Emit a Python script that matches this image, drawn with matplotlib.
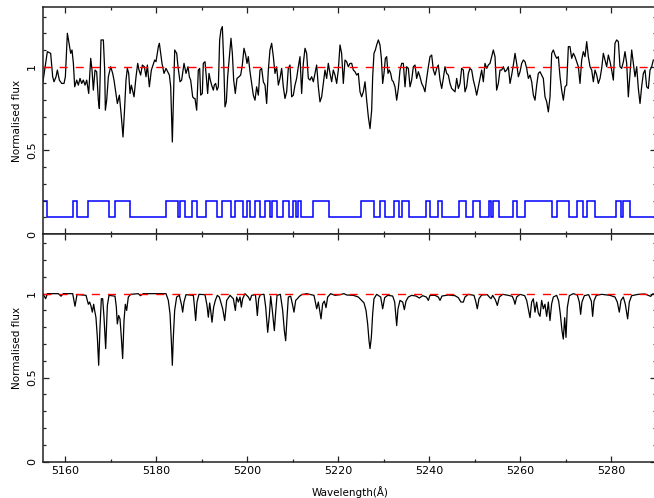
import numpy as np
import matplotlib
matplotlib.use("Agg")
import matplotlib.pyplot as plt
from matplotlib.ticker import MultipleLocator, FixedLocator

wl_obs = [5155.00, 5156.02, 5156.75, 5157.19, 5157.49, 5157.93, 5158.22, 5158.66, 5159.17, 5159.68,
          5159.98, 5160.42, 5160.86, 5161.15, 5161.44, 5161.74, 5162.03, 5162.47, 5162.83, 5163.20,
          5163.57, 5163.93, 5164.30, 5164.67, 5165.11, 5165.55, 5165.84, 5166.13, 5166.50, 5166.86,
          5167.23, 5167.45, 5167.82, 5168.33, 5168.62, 5168.77, 5169.06, 5169.43, 5169.94, 5170.38,
          5170.67, 5171.41, 5171.85, 5172.29, 5172.65, 5172.94, 5173.31, 5173.60, 5173.90, 5174.19,
          5174.48, 5175.07, 5175.51, 5175.88, 5176.17, 5176.53, 5176.90, 5177.34, 5177.71, 5178.00,
          5178.44, 5178.88, 5179.61, 5179.90, 5180.42, 5180.64, 5180.93, 5181.22, 5181.66, 5182.10,
          5182.84, 5183.13, 5183.49, 5184.01, 5184.45, 5184.74, 5185.18, 5185.54, 5186.06, 5186.50,
          5186.94, 5187.23, 5187.52, 5187.96, 5188.26,
          5188.47, 5188.84, 5189.20, 5189.50, 5189.72, 5190.08, 5190.30, 5190.67, 5190.96, 5191.25,
          5191.55, 5191.84, 5192.13, 5192.50, 5192.72, 5193.01, 5193.31, 5193.60, 5193.89, 5194.18,
          5194.48, 5194.77, 5195.06, 5195.36, 5195.65, 5196.09, 5196.38, 5196.68, 5196.97, 5197.33,
          5197.70, 5198.14, 5198.51, 5198.87, 5199.24, 5199.61, 5199.90, 5200.19, 5200.56, 5200.92,
          5201.29, 5201.66, 5202.02, 5202.39, 5202.76, 5203.12, 5203.49, 5203.86, 5204.22, 5204.59,
          5204.95, 5205.32, 5205.69, 5206.05, 5206.42, 5206.79, 5207.15, 5207.52, 5207.88, 5208.25,
          5208.62, 5208.98, 5209.35, 5209.72, 5210.08, 5210.45, 5210.81, 5211.18, 5211.55, 5211.91,
          5212.28, 5212.65, 5213.01, 5213.38, 5213.74, 5214.11, 5214.48, 5214.84, 5215.21, 5215.58,
          5215.94, 5216.31, 5216.68, 5217.04, 5217.41, 5217.77, 5218.14, 5218.51, 5218.87, 5219.24,
          5219.61, 5219.97, 5220.34, 5220.70, 5221.07, 5221.44, 5221.80, 5222.17, 5222.54,
          5222.91, 5223.27, 5223.64, 5224.01, 5224.37, 5224.74, 5225.10, 5225.47, 5225.84, 5226.20,
          5226.57, 5226.94, 5227.30, 5227.52, 5227.81, 5228.11, 5228.40, 5228.77, 5229.13, 5229.43,
          5229.72, 5230.01, 5230.31, 5230.60, 5230.89, 5231.18, 5231.48, 5231.77, 5232.06, 5232.43,
          5232.80, 5233.16, 5233.53, 5233.90, 5234.26, 5234.63, 5234.99, 5235.36, 5235.73, 5236.09,
          5236.46, 5236.83, 5237.19, 5237.56, 5237.92, 5238.29, 5238.66, 5239.02, 5239.39, 5239.76,
          5240.12, 5240.49, 5240.86, 5241.22, 5241.59, 5241.95, 5242.32, 5242.69, 5243.05, 5243.42,
          5243.79, 5244.15, 5244.52, 5244.88, 5245.25, 5245.62, 5245.98, 5246.35, 5246.72, 5247.08,
          5247.45, 5247.81, 5248.18, 5248.55, 5248.91, 5249.28, 5249.65, 5250.01, 5250.38, 5250.75,
          5251.11, 5251.48, 5251.84, 5252.21, 5252.58, 5252.94, 5253.31, 5253.68, 5254.04, 5254.41,
          5254.77, 5255.14, 5255.51,
          5255.88, 5256.24, 5256.61, 5256.98, 5257.34, 5257.71, 5258.07, 5258.44, 5258.81, 5259.17,
          5259.54, 5259.91, 5260.27, 5260.64, 5261.00, 5261.37, 5261.74, 5262.10, 5262.47, 5262.84,
          5263.20, 5263.57, 5263.93, 5264.30, 5264.67, 5265.03, 5265.40, 5265.77, 5266.13, 5266.50,
          5266.87, 5267.23, 5267.60, 5267.96, 5268.33, 5268.70, 5269.06, 5269.43, 5269.80, 5270.16,
          5270.53, 5270.89, 5271.26, 5271.63, 5271.99, 5272.36, 5272.73, 5273.09, 5273.46, 5273.82,
          5274.19, 5274.56, 5274.92, 5275.29, 5275.66, 5276.02, 5276.39, 5276.76, 5277.12, 5277.49,
          5277.85, 5278.22, 5278.59, 5278.95, 5279.32, 5279.69, 5280.05, 5280.42, 5280.78, 5281.15,
          5281.52, 5281.88, 5282.25, 5282.62, 5282.98, 5283.35, 5283.71, 5284.08, 5284.45, 5284.81,
          5285.18, 5285.55, 5285.91, 5286.28, 5286.64, 5287.01, 5287.38, 5287.74, 5288.11, 5288.48,
          5288.84, 5289.21]
flux_obs = [0.90, 1.09, 1.08, 0.94, 0.91, 0.94, 0.98, 0.92, 0.90, 0.90,
            0.94, 1.20, 1.13, 1.08, 1.10, 1.02, 0.88, 0.92, 0.89, 0.93,
            0.90, 0.92, 0.89, 0.92, 0.84, 1.05, 0.98, 0.86, 0.98, 0.97,
            0.80, 0.75, 1.16, 1.16, 0.98, 0.74, 0.80, 0.94, 1.00, 0.96,
            0.92, 0.78, 0.83, 0.70, 0.58, 0.72, 0.92, 0.99, 0.96, 0.84,
            0.89, 0.82, 0.94, 1.02, 0.98, 0.95, 1.01, 1.00, 0.94, 1.01,
            0.88, 0.98, 1.04, 1.03, 1.12, 1.14, 1.08, 1.02, 0.96, 0.99,
            0.95, 0.88, 0.55, 1.10, 1.08, 1.00, 0.91, 0.92, 1.02, 0.96,
            1.00, 0.94, 0.92, 0.82, 0.81,
            0.81, 0.74, 0.98, 0.99, 0.83, 0.84, 1.02, 1.03, 0.94, 0.84,
            0.96, 0.92, 0.89, 0.86, 0.89, 0.90, 0.86, 0.88, 1.16, 1.22,
            1.24, 1.04, 0.76, 0.79, 0.94, 1.08, 1.17, 1.08, 0.92, 0.84,
            0.93, 0.94, 0.95, 1.01, 1.11, 1.07, 1.02, 1.06, 0.97, 0.90,
            0.83, 0.80, 0.88, 0.83, 0.98, 0.99, 0.91, 0.89, 0.78, 0.98,
            1.10, 1.14, 1.06, 0.96, 1.00, 0.89, 0.93, 0.99, 0.88, 0.81,
            0.85, 0.99, 1.01, 0.82, 0.83, 0.89, 0.93, 1.00, 1.06, 0.84,
            1.02, 1.11, 1.08, 0.93, 0.92, 0.94, 0.91, 0.96, 1.01, 0.88,
            0.79, 0.82, 0.90, 0.98, 0.93, 1.02, 0.96, 0.91, 0.98, 0.95,
            0.90, 0.98, 1.13, 1.08, 0.90, 1.04, 1.03, 1.00, 1.02,
            1.02, 0.98, 0.97, 0.95, 0.96, 0.85, 0.82, 0.85, 0.91, 0.80,
            0.70, 0.63, 0.74, 0.94, 1.08, 1.10, 1.13, 1.16, 1.13, 1.05,
            0.90, 0.96, 1.05, 1.06, 0.96, 0.98, 0.96, 0.92, 0.91, 0.88,
            0.80, 0.87, 0.98, 1.02, 1.02, 0.88, 1.00, 0.99, 0.88, 0.92,
            1.00, 1.01, 0.93, 0.97, 0.94, 0.90, 0.88, 0.85, 0.93, 1.00,
            1.06, 1.07, 0.98, 0.95, 0.99, 1.01, 0.92, 0.87, 0.93, 1.00,
            0.96, 0.95, 0.90, 0.87, 0.86, 0.85, 0.93, 0.87, 0.90, 0.99,
            0.98, 0.85, 0.88, 0.96, 0.99, 0.98, 0.92, 0.88, 0.83, 0.88,
            0.93, 0.98, 0.91, 1.02, 0.99, 1.01, 1.02, 1.06, 1.10, 1.06,
            0.86, 0.90, 0.98,
            0.98, 1.00, 0.97, 0.98, 1.00, 0.90, 0.95, 1.01, 1.08, 1.02,
            0.94, 0.97, 1.02, 1.04, 1.03, 0.99, 0.93, 0.95, 0.91, 0.83,
            0.80, 0.89, 0.96, 0.97, 0.95, 0.93, 0.82, 0.79, 0.73, 0.82,
            1.08, 1.10, 1.07, 1.05, 1.06, 0.94, 0.86, 0.80, 0.88, 0.89,
            1.12, 1.12, 1.05, 1.08, 1.06, 1.03, 1.00, 0.90, 1.04, 1.09,
            1.06, 1.15, 1.06, 1.00, 0.98, 0.91, 0.98, 0.95, 0.90, 0.93,
            0.99, 1.08, 1.04, 1.00, 1.07, 1.03, 0.98, 0.92, 1.14, 1.16,
            1.15, 1.00, 0.99, 1.03, 1.09, 1.02, 0.82, 0.96, 1.10, 1.02,
            0.94, 1.00, 0.87, 0.78, 0.88, 0.96, 0.98, 0.88, 0.87, 0.98,
            1.00, 1.04]

# Pixel mask intervals (blue line is high inside these)
mask_on = [(5155.00, 5155.96), (5161.72, 5162.58), (5164.91, 5169.64), (5170.93, 5174.11),
           (5182.20, 5184.70), (5185.21, 5186.33), (5187.88, 5189.00), (5190.81, 5193.30),
           (5194.34, 5196.31), (5197.26, 5198.98), (5200.01, 5200.62), (5201.56, 5202.77),
           (5203.89, 5205.01), (5205.35, 5206.55), (5207.76, 5209.14), (5209.91, 5210.77),
           (5211.12, 5211.80), (5214.47, 5217.83), (5224.97, 5227.72), (5229.10, 5230.13),
           (5232.11, 5233.32), (5234.01, 5235.55), (5239.34, 5240.03), (5241.84, 5242.78),
           (5246.40, 5247.95), (5249.58, 5251.13), (5253.02, 5253.54), (5254.05, 5255.34),
           (5258.27, 5259.30), (5261.11, 5266.87), (5267.99, 5270.75), (5272.38, 5273.67),
           (5274.70, 5276.42), (5281.07, 5282.19), (5282.62, 5284.08)]
mask_low = 0.1
mask_high = 0.2

# Model spectrum (bottom panel)
wl_mod = [5155.00, 5155.65, 5156.02, 5158.44, 5159.02, 5159.53, 5161.59, 5162.10, 5162.54, 5164.52,
          5165.03, 5165.32, 5165.62, 5165.91, 5166.20, 5166.42, 5166.71, 5167.01, 5167.30, 5167.59,
          5167.89, 5168.18, 5168.47, 5168.84, 5169.21, 5169.57, 5170.89, 5171.18, 5171.40, 5171.70,
          5171.99, 5172.28, 5172.57, 5172.87, 5173.16, 5173.45, 5173.82, 5174.33, 5176.02, 5176.46,
          5177.12, 5182.10, 5182.61, 5182.98, 5183.27, 5183.49, 5183.71, 5184.00, 5184.44, 5185.03,
          5185.54, 5185.76, 5186.05, 5186.49, 5188.11, 5188.40, 5188.62, 5188.91, 5189.35, 5190.67,
          5191.11, 5191.40, 5191.70, 5191.92, 5192.21, 5192.57, 5192.94, 5193.38, 5193.82,
          5194.56, 5195.00, 5195.44, 5196.17, 5196.90, 5197.34, 5197.63, 5198.00, 5198.37, 5198.66,
          5198.95, 5199.46, 5200.20, 5200.56, 5200.93, 5201.74, 5201.96, 5202.17, 5202.47, 5202.83,
          5203.64, 5204.01, 5204.45, 5204.81, 5205.11, 5205.47, 5205.91, 5206.20, 5206.50, 5207.23,
          5207.74, 5208.11, 5208.40, 5208.70, 5208.99, 5209.50, 5209.94, 5210.23, 5210.60, 5210.97,
          5211.41, 5211.92, 5213.02, 5214.63, 5215.22, 5215.58, 5215.88, 5216.17, 5216.53, 5216.90,
          5217.27, 5217.63, 5218.29, 5219.24, 5220.34, 5221.22, 5221.81, 5223.27, 5224.37, 5225.10,
          5225.62, 5226.06, 5226.42, 5226.72, 5226.94, 5227.23, 5227.52, 5227.81, 5228.40, 5229.28,
          5229.72, 5230.16, 5230.82, 5231.92, 5232.36, 5232.58, 5232.80, 5233.09, 5233.53, 5234.12,
          5234.48, 5234.85, 5235.36, 5236.09, 5237.05, 5237.78, 5238.51, 5239.32, 5239.76, 5240.12,
          5241.22, 5241.95, 5242.32, 5242.76, 5244.15, 5245.61, 5246.35, 5246.93, 5247.45, 5247.81,
          5248.55, 5249.79, 5250.16, 5250.52, 5250.89, 5251.48, 5252.72, 5253.16, 5253.53, 5253.89,
          5254.48, 5254.92, 5255.36, 5256.09, 5257.34, 5258.22, 5258.58, 5258.80, 5259.17, 5259.90,
          5260.93, 5261.37, 5261.73, 5262.10, 5262.46, 5262.83, 5263.20, 5263.56, 5263.93, 5264.30,
          5264.66, 5265.03, 5265.39, 5265.76, 5266.13, 5266.49, 5266.86, 5267.23, 5267.96, 5268.40,
          5268.76, 5269.13, 5269.42, 5269.72, 5270.01, 5270.30, 5270.74, 5271.62, 5272.50, 5272.94,
          5273.23, 5273.52, 5274.04, 5274.99, 5275.58, 5275.87, 5276.16, 5276.68, 5277.85, 5279.68,
          5280.78, 5281.29, 5281.73, 5282.10, 5282.61, 5283.05, 5283.56, 5283.93, 5284.44, 5285.91,
          5287.37, 5288.10, 5288.62, 5289.06, 5289.90]
flux_mod = [1.000, 0.970, 1.000, 1.000, 0.985, 1.000, 1.000, 0.925, 0.995, 0.990,
            0.937, 0.950, 0.925, 0.890, 0.937, 0.900, 0.857, 0.740, 0.574, 0.800,
            0.970, 0.970, 0.860, 0.673, 0.930, 0.990, 0.985, 0.920, 0.820, 0.870,
            0.850, 0.740, 0.614, 0.840, 0.937, 0.900, 0.980, 0.996, 1.000, 0.988,
            1.000, 1.000, 0.960, 0.880, 0.720, 0.574, 0.740, 0.900, 0.980, 0.990,
            0.930, 0.890, 0.950, 0.994, 0.990, 0.910, 0.840, 0.950, 0.996, 0.994,
            0.930, 0.860, 0.945, 0.900, 0.830, 0.920, 0.960, 0.990, 0.980,
            0.910, 0.840, 0.960, 0.990, 0.970, 0.900, 0.980, 0.950, 0.980, 0.920,
            0.970, 1.000, 0.980, 0.960, 0.990, 0.994, 0.940, 0.870, 0.970, 0.994,
            0.996, 0.920, 0.770, 0.870, 0.985, 0.900, 0.780, 0.890, 0.990, 0.996,
            0.900, 0.780, 0.720, 0.860, 0.980, 0.985, 0.930, 0.890, 0.960, 0.970,
            0.984, 0.994, 1.000, 0.990, 0.910, 0.950, 0.900, 0.850, 0.940, 0.956,
            0.917, 0.980, 1.000, 0.990, 0.994, 1.000, 0.992, 0.990, 0.980, 0.960,
            0.945, 0.900, 0.820, 0.720, 0.673, 0.740, 0.880, 0.970, 0.996, 0.980,
            0.910, 0.976, 0.990, 0.986, 0.950, 0.880, 0.810, 0.910, 0.960, 0.950,
            0.905, 0.956, 0.980, 0.990, 0.986, 0.974, 0.988, 0.980, 0.960, 0.990,
            0.990, 0.980, 0.960, 0.986, 0.992, 0.988, 0.976, 0.950, 0.950, 0.980,
            0.996, 0.990, 0.956, 0.910, 0.970, 0.992, 0.994, 0.980, 0.970, 0.990,
            0.964, 0.930, 0.980, 0.996, 0.990, 0.984, 0.960, 0.937, 0.980, 0.996,
            0.988, 0.960, 0.910, 0.857, 0.950, 0.970, 0.890, 0.950, 0.885, 0.865,
            0.960, 0.910, 0.937, 0.865, 0.950, 0.840, 0.940, 0.980, 0.990, 0.956,
            0.880, 0.780, 0.730, 0.857, 0.740, 0.917, 0.988, 1.000, 0.992, 0.950,
            0.877, 0.950, 0.988, 0.994, 0.956, 0.865, 0.956, 0.990, 0.996, 0.990,
            0.980, 0.950, 0.890, 0.960, 0.980, 0.937, 0.850, 0.950, 0.988, 0.996,
            0.998, 0.990, 0.984, 0.998, 1.000]

continuum = 1.0
xlim = (5155, 5289.9)
ylim = (0, 1.355)

plt.rcParams['font.family'] = ['DejaVu Sans']
plt.rcParams['font.size'] = 8

fig = plt.figure(figsize=(6.54, 4.98), dpi=100)
ax_top = fig.add_axes([0.0653, 0.5301, 0.9385, 0.4552])
ax_bot = fig.add_axes([0.0653, 0.0729, 0.9385, 0.4572])


def style_axis(ax):
    ax.set_xlim(*xlim)
    ax.set_ylim(*ylim)
    ax.xaxis.set_major_locator(MultipleLocator(20))
    ax.xaxis.set_minor_locator(MultipleLocator(10))
    ax.yaxis.set_major_locator(FixedLocator([0, 0.5, 1]))
    ax.yaxis.set_minor_locator(MultipleLocator(0.1))
    ax.set_yticklabels(['0', '0.5', '1'], rotation=90, va='center')
    ax.tick_params(which='both', direction='in', top=True, right=True,
                   width=0.9, color='#222222', labelsize=8, pad=3)
    ax.tick_params(which='major', length=4)
    ax.tick_params(which='minor', length=2.2)
    ax.tick_params(axis='y', pad=4)
    for sp in ax.spines.values():
        sp.set_linewidth(1.1)
        sp.set_color('#222222')
    ax.set_ylabel('Normalised flux', fontsize=7.5)
    ax.yaxis.set_label_coords(-0.034, 0.5)


# Top: observed spectrum with mask
ax_top.plot(wl_obs, flux_obs, color='black', lw=0.9)
ax_top.axhline(continuum, color='red', lw=1.0, dashes=(5.8, 5.8))
edges = [xlim[0]]
levels = []
for start, end in mask_on:
    if start > edges[-1]:
        levels.append(mask_low)
        edges.append(start)
    levels.append(mask_high)
    edges.append(end)
levels.append(mask_low)
edges.append(xlim[1])
ax_top.stairs(levels, edges, baseline=None, color='#0000ff', lw=1.1)
style_axis(ax_top)
ax_top.tick_params(labelbottom=False)

# Bottom: model spectrum
ax_bot.plot(wl_mod, flux_mod, color='black', lw=0.9)
ax_bot.axhline(continuum, color='red', lw=1.0, dashes=(5.8, 5.8))
style_axis(ax_bot)
ax_bot.set_xlabel('Wavelength(Å)', fontsize=7.5)
ax_bot.xaxis.set_label_coords(0.5, -0.105)

fig.savefig('out.png', dpi=100)
